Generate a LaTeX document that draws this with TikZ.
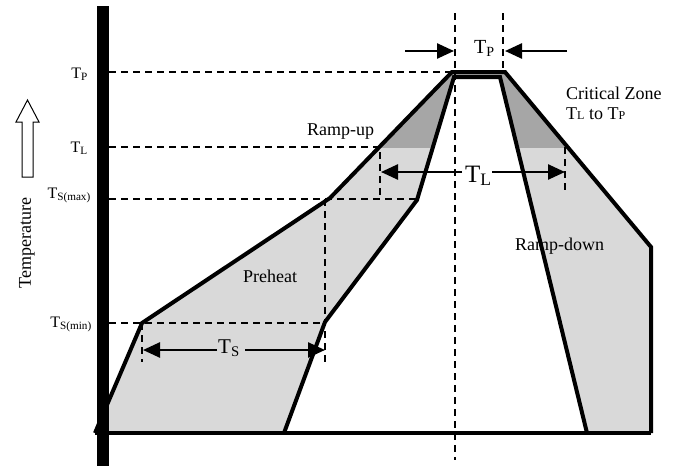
\documentclass[tikz,border=0pt]{standalone}
\usepackage{fontspec}
\setmainfont{Liberation Serif}
\usetikzlibrary{arrows.meta}
\newcommand{\Tsb}[1]{T\textsubscript{#1}}
\begin{document}
\begin{tikzpicture}[x=1pt,y=-1pt,
  outline/.style={line width=4pt},
  dashline/.style={line width=1.8pt,dash pattern=on 7pt off 5pt},
  dimarrow/.style={line width=2.5pt,-{Triangle[length=17pt,width=15pt]}},
  lbl/.style={font=\fontsize{18}{21}\selectfont, inner sep=0pt},
  leftlbl/.style={font=\fontsize{16}{18}\selectfont, inner sep=0pt, anchor=base east},
  biglbl/.style={inner sep=0pt, anchor=base west},
  lightfill/.style={fill=black!15},
  darkfill/.style={fill=black!35}
]
\useasboundingbox (0,0) rectangle (678,466);
% key points
\coordinate (o1) at (95,433);
\coordinate (o2) at (142,323);
\coordinate (o3) at (330,198);
\coordinate (o4) at (452,72);
\coordinate (o5) at (505,72);
\coordinate (o6) at (651,247);
\coordinate (o7) at (651,433);
\coordinate (i1) at (284,433);
\coordinate (i2) at (325,322);
\coordinate (i3) at (417,200);
\coordinate (i4) at (454,77);
\coordinate (i5) at (500,77);
\coordinate (i6) at (587,433);
% fills
\fill[lightfill] (o1) -- (i1) -- (i2) -- (i3) -- (i4) -- (i5) -- (i6) -- (o7) -- (o6) -- (o5) -- (o4) -- (o3) -- (o2) -- cycle;
\begin{scope}
  \clip (0,0) rectangle (678,147);
  \fill[darkfill] (o1) -- (i1) -- (i2) -- (i3) -- (i4) -- (i5) -- (i6) -- (o7) -- (o6) -- (o5) -- (o4) -- (o3) -- (o2) -- cycle;
\end{scope}
% dashed guide lines
\coordinate (hP1) at (109,72);
\coordinate (hL1) at (109,147);
\coordinate (hL2) at (380,147);
\coordinate (hM1) at (109,199);
\coordinate (hM2) at (418,199);
\coordinate (hM3) at (380,199);
\coordinate (hM4) at (325,199);
\coordinate (hN1) at (109,323);
\coordinate (hN2) at (325,323);
\coordinate (vC1) at (455,13);
\coordinate (vC2) at (455,460);
\coordinate (vR1) at (503,13);
\coordinate (vR2) at (503,72);
\coordinate (vT1) at (565,147);
\coordinate (vT2) at (565,192);
\coordinate (vS1) at (325,362);
\coordinate (vS2) at (142,362);
\draw[dashline] (hP1) -- (o4);
\draw[dashline] (hL1) -- (hL2) -- (hM3);
\draw[dashline] (hM1) -- (hM2);
\draw[dashline] (hN1) -- (hN2);
\draw[dashline] (hM4) -- (vS1);
\draw[dashline] (o2) -- (vS2);
\draw[dashline] (vC1) -- (vC2);
\draw[dashline] (vR1) -- (vR2);
\draw[dashline] (vT1) -- (vT2);
% outlines
\draw[outline] (o1) -- (o2) -- (o3) -- (o4) -- (o5) -- (o6) -- (o7);
\draw[outline] (i1) -- (i2) -- (i3) -- (i4) -- (i5) -- (i6);
\draw[outline] (o1) -- (o7);
% axis
\fill (97,6) rectangle (109,466);
% temperature arrow
\draw[line width=1pt, fill=white] (22,177) -- (22,122) -- (16,122) -- (27.5,100) -- (39,122) -- (33,122) -- (33,177) -- cycle;
\node[lbl, rotate=90] (temp) at (27,243) {Temperature};
% left labels
\node[leftlbl] (lTP) at (88,78) {\Tsb{P}};
\node[leftlbl] (lTL) at (88,152) {\Tsb{L}};
\node[leftlbl] (lTSmax) at (91,198) {\Tsb{S(max)}};
\node[leftlbl] (lTSmin) at (92,327) {\Tsb{S(min)}};
% dimension arrows
\coordinate (aP1) at (405,51);
\coordinate (aP2) at (454,51);
\coordinate (aP3) at (567,51);
\coordinate (aP4) at (505,51);
\coordinate (aL1) at (462,172);
\coordinate (aL2) at (381,172);
\coordinate (aL3) at (492,172);
\coordinate (aL4) at (565,172);
\coordinate (aS1) at (217,350);
\coordinate (aS2) at (143,350);
\coordinate (aS3) at (245,350);
\coordinate (aS4) at (325,350);
\draw[dimarrow] (aP1) -- (aP2);
\draw[dimarrow] (aP3) -- (aP4);
\draw[dimarrow] (aL1) -- (aL2);
\draw[dimarrow] (aL3) -- (aL4);
\draw[dimarrow] (aS1) -- (aS2);
\draw[dimarrow] (aS3) -- (aS4);
\node[biglbl, font=\fontsize{20}{22}\selectfont] (bTP) at (474,53) {\Tsb{P}};
\node[biglbl, font=\fontsize{25}{28}\selectfont] (bTL) at (465,182) {\Tsb{L}};
\node[biglbl, font=\fontsize{21}{24}\selectfont] (bTS) at (218,353) {\Tsb{S}};
% text labels
\node[lbl, anchor=base west] (rup) at (307,135) {Ramp-up};
\node[lbl, anchor=base west] (crit) at (566,99) {Critical Zone};
\node[lbl, anchor=base west] (crit2) at (566,119) {T{\fontsize{12}{12}\selectfont L} to T{\fontsize{12}{12}\selectfont P}};
\node[lbl, anchor=base west] (pre) at (243,282) {Preheat};
\node[lbl, anchor=base west] (rdown) at (515,250) {Ramp-down};
\end{tikzpicture}
\end{document}
